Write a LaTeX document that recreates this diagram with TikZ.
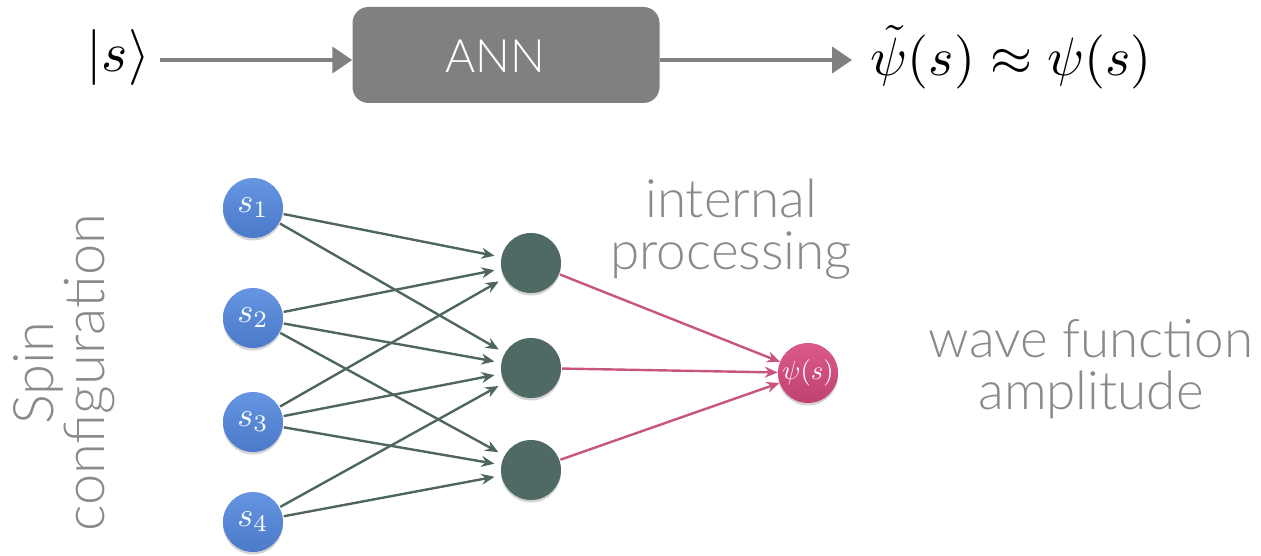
\documentclass[tikz,border=0pt]{standalone}
\usepackage{fontspec}
\usepackage{graphicx}
\newfontfamily\latolight{Lato Light}
\usetikzlibrary{arrows.meta,shadows}
\definecolor{flowgray}{HTML}{808080}
\definecolor{labelgray}{HTML}{8A8A8A}
\definecolor{spinblueT}{HTML}{6696E2}
\definecolor{spinblueB}{HTML}{4A7AC8}
\definecolor{hiddengreen}{HTML}{4F6A65}
\definecolor{edgegreen}{HTML}{4F6660}
\definecolor{ampT}{HTML}{DA5A8C}
\definecolor{ampB}{HTML}{C04270}
\definecolor{ampedge}{HTML}{C8557F}
\newcommand{\headmath}[2]{\scalebox{#1}{$#2$}}
\newcommand{\cellmath}[2]{\scalebox{#1}{$#2$}}
\begin{document}
\begin{tikzpicture}[x=1pt,y=-1pt,
  flow/.style={draw=flowgray,line width=4pt,-{Triangle[length=20pt,width=26pt]}},
  annbox/.style={fill=flowgray,rounded corners=16pt,minimum width=307pt,minimum height=96pt},
  annlabel/.style={text=white,font=\latolight\fontsize{46}{52}\selectfont},
  caption/.style={text=labelgray,align=center,font=\latolight\fontsize{53}{52}\selectfont},
  spin/.style={circle,minimum size=60pt,inner sep=0pt,top color=spinblueT,bottom color=spinblueB,
    text=white,
    drop shadow={opacity=0.35,shadow xshift=0pt,shadow yshift=-2.5pt}},
  hidden/.style={circle,minimum size=60pt,inner sep=0pt,fill=hiddengreen,
    drop shadow={opacity=0.35,shadow xshift=0pt,shadow yshift=-2.5pt}},
  amp/.style={circle,minimum size=60pt,inner sep=0pt,top color=ampT,bottom color=ampB,
    text=white,
    drop shadow={opacity=0.35,shadow xshift=0pt,shadow yshift=-2.5pt}},
  wire/.style={draw=edgegreen,line width=2.4pt,-{Stealth[length=13pt,width=11pt]},shorten >=7pt,shorten <=1pt},
  outwire/.style={draw=ampedge,line width=2.4pt,-{Stealth[length=13pt,width=11pt]},shorten <=1pt}
]
\useasboundingbox (0,0) rectangle (1261,556);

% top row: state -> network -> approximated amplitude
\node (ket) at (118,58) {\headmath{5.6}{|s\rangle}};
\node[annbox] (ann) at (506,55) {};
\node[annlabel] (annname) at (495,56) {ANN};
\node[inner sep=0pt] (approx) at (1011,57) {\headmath{5.4}{\tilde{\psi}(s)\approx\psi(s)}};
\draw[flow] (160,60) coordinate (ketout) -- (ann.west |- ketout);
\coordinate (annout) at (ann.east |- ketout);
\coordinate (approxin) at (852,60);
\draw[flow] (annout) -- (approxin);

% network
\node[spin] (s1) at (253,208) {\cellmath{3.4}{s_1}};
\node[spin] (s2) at (253,318) {\cellmath{3.4}{s_2}};
\node[spin] (s3) at (253,422) {\cellmath{3.4}{s_3}};
\node[spin] (s4) at (253,522) {\cellmath{3.4}{s_4}};
\node[hidden] (h1) at (531,263) {};
\node[hidden] (h2) at (531,368) {};
\node[hidden] (h3) at (531,470) {};
\node[amp] (psi) at (808,373) {\cellmath{2.65}{\psi(s)}};

\foreach \a/\b in {s1/h1,s1/h2,s2/h1,s2/h2,s2/h3,s3/h1,s3/h2,s3/h3,s4/h2,s4/h3}
  \draw[wire] (\a) -- (\b);
\foreach \a in {h1,h2,h3}
  \draw[outwire] (\a) -- (psi);

% captions
\node[caption] (proc) at (731,229) {internal\\processing};
\node[caption] (wave) at (1091,369) {wave function\\amplitude};
\node[caption,rotate=90,font=\latolight\fontsize{56}{51}\selectfont] (spincfg) at (64,373) {Spin\\configuration};
\end{tikzpicture}
\end{document}
